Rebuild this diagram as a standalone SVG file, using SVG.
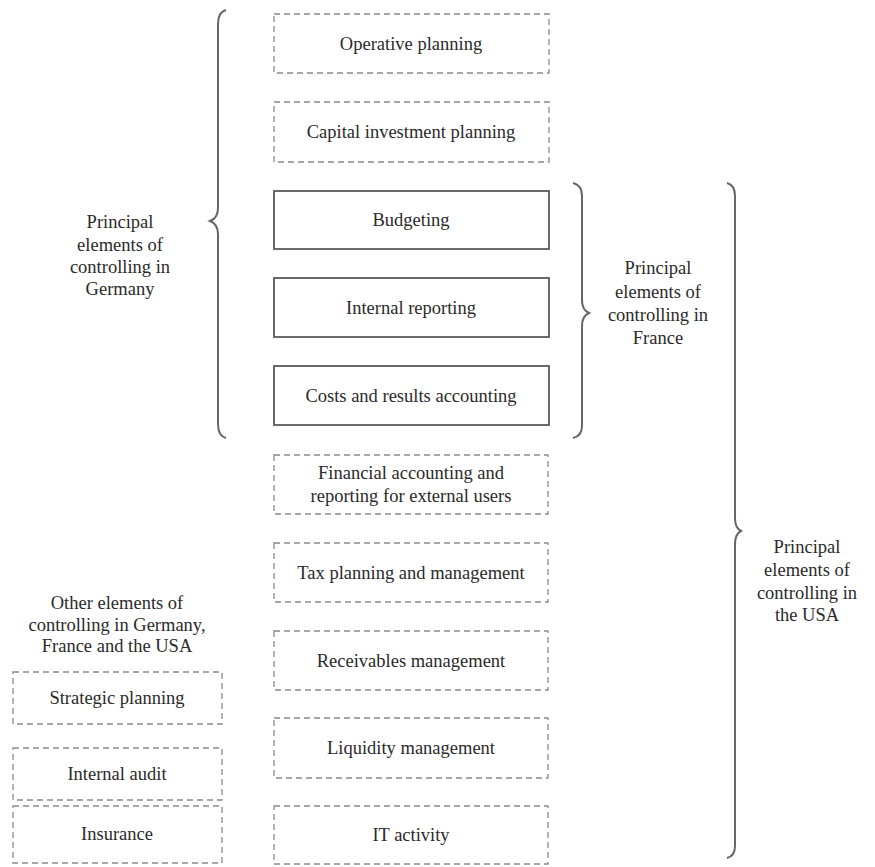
<svg xmlns="http://www.w3.org/2000/svg" width="875" height="867" viewBox="0 0 875 867">
<style>
.d{fill:#fff;stroke:#8a8a8a;stroke-width:1.3;stroke-dasharray:6,4}
.s{fill:#fff;stroke:#5a5a5a;stroke-width:1.8}
.t{font-family:"Liberation Serif","Times New Roman",serif;font-size:18.5px;fill:#2a2a2a;text-anchor:middle}
.b{fill:none;stroke:#666;stroke-width:2}
</style>
<rect width="875" height="867" fill="#fff"/>
<g id="connectors">
<path id="brace-germany" class="b" d="M226,10 Q218,12 218,24 L218,208 Q218,218 210,221 Q218,224 218,234 L218,424 Q218,436 226,438"/>
<path id="brace-france" class="b" d="M573,183 Q582,185 582,196 L582,300 Q582,310 589,313 Q582,316 582,326 L582,426 Q582,436 573,438"/>
<path id="brace-usa" class="b" d="M727,183 Q735,185 735,196 L735,518 Q735,528 741,531 Q735,534 735,544 L735,846 Q735,856 727,858"/>
</g>
<g id="n-operative"><rect class="d" x="274" y="14" width="275" height="59"/><text class="t" x="411" y="50">Operative planning</text></g>
<g id="n-capital"><rect class="d" x="274" y="102" width="275" height="60"/><text class="t" x="411" y="138">Capital investment planning</text></g>
<g id="n-budgeting"><rect class="s" x="274" y="191" width="275" height="58"/><text class="t" x="411" y="226">Budgeting</text></g>
<g id="n-internal-reporting"><rect class="s" x="274" y="278" width="275" height="59"/><text class="t" x="411" y="314">Internal reporting</text></g>
<g id="n-costs"><rect class="s" x="274" y="366" width="275" height="59"/><text class="t" x="411" y="402">Costs and results accounting</text></g>
<g id="n-financial"><rect class="d" x="274" y="455" width="274" height="59"/><text class="t" x="411" y="479">Financial accounting and</text><text class="t" x="411" y="502">reporting for external users</text></g>
<g id="n-tax"><rect class="d" x="274" y="543" width="274" height="59"/><text class="t" x="411" y="579">Tax planning and management</text></g>
<g id="n-receivables"><rect class="d" x="274" y="631" width="274" height="59"/><text class="t" x="411" y="667">Receivables management</text></g>
<g id="n-liquidity"><rect class="d" x="274" y="718" width="274" height="60"/><text class="t" x="411" y="754">Liquidity management</text></g>
<g id="n-it"><rect class="d" x="274" y="806" width="274" height="58"/><text class="t" x="411" y="841">IT activity</text></g>
<g id="n-strategic"><rect class="d" x="13" y="672" width="209" height="52"/><text class="t" x="117" y="704">Strategic planning</text></g>
<g id="n-audit"><rect class="d" x="13" y="748" width="209" height="52"/><text class="t" x="117" y="780">Internal audit</text></g>
<g id="n-insurance"><rect class="d" x="13" y="806" width="209" height="57"/><text class="t" x="117" y="840">Insurance</text></g>
<g id="label-germany"><text class="t" x="120" y="228">Principal</text><text class="t" x="120" y="251">elements of</text><text class="t" x="120" y="273">controlling in</text><text class="t" x="120" y="295">Germany</text></g>
<g id="label-france"><text class="t" x="658" y="274">Principal</text><text class="t" x="658" y="298">elements of</text><text class="t" x="658" y="321">controlling in</text><text class="t" x="658" y="344">France</text></g>
<g id="label-usa"><text class="t" x="807" y="553">Principal</text><text class="t" x="807" y="576">elements of</text><text class="t" x="807" y="599">controlling in</text><text class="t" x="807" y="621">the USA</text></g>
<g id="label-other"><text class="t" x="117" y="609">Other elements of</text><text class="t" x="117" y="631">controlling in Germany,</text><text class="t" x="117" y="652">France and the USA</text></g>
</svg>
